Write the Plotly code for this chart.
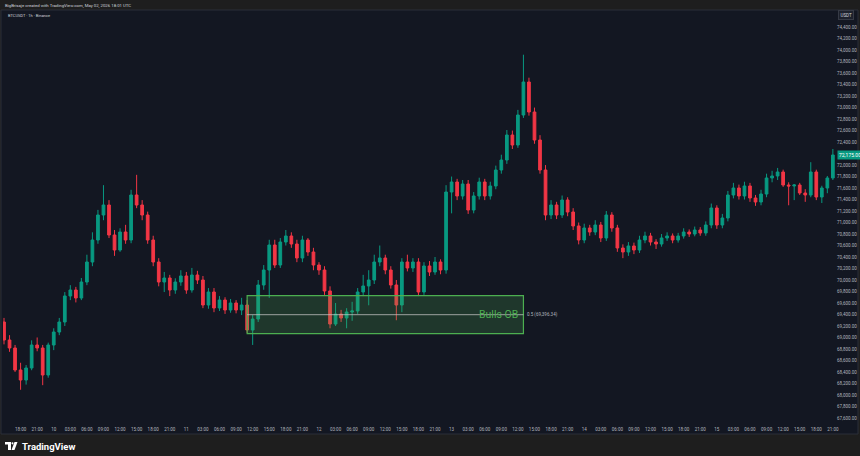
import pandas as pd
import plotly.graph_objects as go

# ---------------- data ----------------
first_open = 69269
closes = [68956, 68817, 68434, 68260, 68469, 68869, 68817, 68347, 68869, 69095,
          69269, 69722, 69826, 69687, 69965, 70313, 70696, 71131, 71305, 70783,
          70522, 70835, 70696, 71479, 71305, 71131, 70696, 70313, 69965, 70035,
          69826, 69965, 70070, 69826, 70087, 70000, 69565, 69791, 69513, 69652,
          69478, 69600, 69478, 69565, 69130, 69321, 69913, 70174, 70609, 70261,
          70661, 70766, 70626, 70383, 70696, 70487, 70261, 70174, 69809, 69234,
          69408, 69339, 69443, 69461, 69791, 69896, 70000, 70313, 70383, 70174,
          69913, 69565, 70313, 70209, 70313, 69791, 70244, 70139, 70313, 70174,
          71531, 71705, 71462, 71670, 71218, 71462, 71705, 71462, 71636, 71914,
          72088, 72523, 72349, 72871, 73445, 72923, 72436, 71914, 71131, 71305,
          71131, 71392, 71183, 70940, 70696, 70905, 70835, 70957, 70731, 71131,
          70905, 70557, 70487, 70592, 70522, 70696, 70766, 70661, 70626, 70731,
          70766, 70696, 70766, 70835, 70800, 70870, 70818, 70957, 71253, 70957,
          71079, 71479, 71601, 71462, 71636, 71427, 71357, 71496, 71775, 71810,
          71879, 71653, 71636, 71653, 71514, 71479, 71879, 71444, 71601, 71775,
          72175]
highs = [69340, 69040, 68870, 68560, 68520, 68950, 69000, 68870, 68910, 69160,
         69340, 69790, 69910, 69880, 70035, 70440, 70830, 71220, 71650, 71390,
         70870, 70900, 70960, 71570, 71830, 71390, 71190, 70770, 70380, 70140,
         70090, 70030, 70170, 70140, 70210, 70160, 70070, 69860, 69860, 69720,
         69700, 69670, 69650, 69690, 69650, 69390, 70000, 70260, 70700, 70700,
         70730, 70870, 70830, 70700, 70770, 70730, 70560, 70310, 70240, 69890,
         69600, 69480, 69510, 69620, 69860, 70090, 70170, 70440, 70600, 70440,
         70240, 70000, 70380, 70440, 70380, 70380, 70310, 70330, 70400, 70360,
         71650, 71800, 71760, 71740, 71740, 71530, 71780, 71760, 71710, 71990,
         72180, 72610, 72600, 72960, 73920, 73520, 73000, 72520, 72000, 71390,
         71360, 71470, 71440, 71250, 71000, 70980, 70960, 71040, 71010, 71200,
         71180, 70960, 70620, 70660, 70650, 70770, 70840, 70820, 70710, 70800,
         70830, 70810, 70820, 70900, 70880, 70930, 70920, 71020, 71330, 71300,
         71150, 71550, 71690, 71660, 71710, 71690, 71480, 71570, 71850, 71900,
         71950, 71920, 71700, 71670, 71690, 71580, 72050, 71920, 71640, 71810,
         72280]
lows = [68880, 68750, 68400, 68090, 68180, 68430, 68760, 68170, 68300, 68780,
        69040, 69200, 69650, 69610, 69650, 69910, 70240, 70630, 71040, 70730,
        70420, 70490, 70630, 70640, 71250, 71040, 70630, 70240, 69890, 69790,
        69720, 69760, 69900, 69760, 69780, 69930, 69510, 69500, 69440, 69460,
        69410, 69430, 69420, 69390, 69080, 68870, 69270, 69830, 69690, 70210,
        70210, 70600, 70560, 70310, 70310, 70420, 70170, 70090, 69740, 69160,
        69200, 69270, 69160, 69290, 69410, 69720, 69560, 69930, 70240, 70100,
        69850, 69300, 69440, 70150, 70140, 69720, 69740, 70070, 70090, 70100,
        70110, 71160, 71390, 71400, 71150, 71160, 71400, 71390, 71400, 71580,
        71850, 72020, 72280, 72300, 72820, 72860, 72370, 71850, 71040, 71060,
        71060, 71080, 71110, 70870, 70620, 70640, 70770, 70780, 70660, 70680,
        70840, 70490, 70380, 70420, 70450, 70470, 70640, 70600, 70540, 70580,
        70680, 70640, 70650, 70720, 70750, 70760, 70770, 70770, 70900, 70890,
        70900, 71020, 71420, 71400, 71400, 71360, 71290, 71300, 71440, 71700,
        71740, 71620, 71300, 71390, 71480, 71360, 71440, 71390, 71340, 71510,
        71740]
first_time = "2026-04-09 15:00"

ob_start = "2026-04-11 11:00"
ob_end = "2026-04-13 13:00"
ob_low = 69065.20
ob_high = 69727.48
ob_label = "Bulls OB"

header_text = "BigBrisaje created with TradingView.com, May 02, 2026 18:01 UTC"
symbol_text = "BTCUSDT · 1h · Binance"
currency_text = "USDT"
y_ticks_all = list(range(67600, 74401, 200))
x_view = ("2026-04-09 14:49", "2026-04-15 21:34")
y_view = (67477, 74698)

# ---------------- build ----------------
times = pd.date_range(first_time, periods=len(closes), freq="h")
opens = [first_open] + closes[:-1]
last_close = closes[-1]
# the current-price badge replaces the axis label it would cover
y_ticks = [v for v in y_ticks_all if abs(v - last_close) > 110]

tick_times = pd.date_range("2026-04-09 15:00", "2026-04-15 21:00", freq="3h")
tick_text = [str(t.day) if t.hour == 0 else t.strftime("%H:%M") for t in tick_times]

UP = "#089981"
DOWN = "#f23645"
BG = "#131722"
FONT = "Roboto"

W, H = 860, 456
ML, MR, MT, MB = 3, 24, 10, 31
PW, PH = W - ML - MR, H - MT - MB


def px(x):
    return (x - ML) / PW


def py(y):
    return (H - MB - y) / PH


fig = go.Figure()
fig.add_trace(go.Candlestick(
    x=times, open=opens, high=highs, low=lows, close=closes,
    increasing=dict(line=dict(color=UP, width=1), fillcolor=UP),
    decreasing=dict(line=dict(color=DOWN, width=1), fillcolor=DOWN),
    whiskerwidth=0, showlegend=False, hoverinfo="skip",
))

mid = (ob_low + ob_high) / 2
shapes = [
    # chart panel background
    dict(type="rect", xref="paper", yref="paper", x0=px(1), x1=px(858), y0=py(434), y1=py(10),
         fillcolor=BG, line=dict(color="#2a2e39", width=1), layer="below"),
    # order block
    dict(type="rect", xref="x", yref="y", x0=ob_start, x1=ob_end, y0=ob_low, y1=ob_high,
         fillcolor="rgba(76,175,80,0.22)", line=dict(color="#4caf50", width=1.2), layer="above"),
    dict(type="line", xref="x", yref="y", x0=ob_start, x1=ob_end, y0=mid, y1=mid,
         line=dict(color="rgba(200,200,200,0.75)", width=1), layer="above"),
    # TradingView logo
    dict(type="rect", xref="paper", yref="paper", x0=px(5), x1=px(11), y0=py(444.5), y1=py(442),
         fillcolor="#ffffff", line=dict(width=0)),
    dict(type="rect", xref="paper", yref="paper", x0=px(8), x1=px(11), y0=py(450), y1=py(442),
         fillcolor="#ffffff", line=dict(width=0)),
    dict(type="circle", xref="paper", yref="paper", x0=px(11.5), x1=px(13.5), y0=py(444.5), y1=py(442.2),
         fillcolor="#ffffff", line=dict(width=0)),
    dict(type="path", xref="paper", yref="paper",
         path=f"M {px(14.5)} {py(442)} L {px(17.5)} {py(442)} L {px(14.5)} {py(450)} L {px(11.5)} {py(450)} Z",
         fillcolor="#ffffff", line=dict(width=0)),
]

annotations = [
    dict(text=header_text, xref="paper", yref="paper", x=px(3), y=py(5), xanchor="left", yanchor="middle",
         showarrow=False, font=dict(family=FONT, size=4.3, color="#d1d4dc")),
    dict(text=symbol_text, xref="paper", yref="paper", x=px(6), y=py(15), xanchor="left", yanchor="middle",
         showarrow=False, font=dict(family=FONT, size=4, color="#d1d4dc")),
    dict(text=currency_text, xref="paper", yref="paper", x=px(846), y=py(15), xanchor="center", yanchor="middle",
         showarrow=False, font=dict(family=FONT, size=4.5, color="#d1d4dc"),
         bgcolor="#1e222d", bordercolor="#363a45", borderwidth=1, borderpad=1.5),
    dict(text=ob_label, xref="x", yref="y", x=ob_end, y=mid, xanchor="right", yanchor="middle",
         xshift=-3, showarrow=False, font=dict(family=FONT, size=10.5, color="#4caf50")),
    dict(text=f"0.5 ({mid:,.2f})", xref="x", yref="y", x=ob_end, y=mid, xanchor="left", yanchor="middle",
         xshift=2, showarrow=False, font=dict(family=FONT, size=4.5, color="#b2b5be")),
    dict(text=f"{last_close:,.2f}", xref="paper", yref="y", x=1, y=last_close, xanchor="left",
         yanchor="middle", xshift=1, showarrow=False, font=dict(family=FONT, size=5, color="#ffffff"),
         bgcolor=UP, borderpad=1),
    dict(text="<b>TradingView</b>", xref="paper", yref="paper", x=px(20), y=py(446), xanchor="left",
         yanchor="middle", showarrow=False, font=dict(family=FONT, size=9.5, color="#ffffff")),
]

fig.update_layout(
    width=W, height=H,
    margin=dict(l=ML, r=MR, t=MT, b=MB),
    paper_bgcolor="#1e1e1e", plot_bgcolor=BG,
    shapes=shapes, annotations=annotations,
    showlegend=False,
    font=dict(family=FONT, color="#b2b5be"),
    xaxis=dict(
        type="date", range=list(x_view), rangeslider=dict(visible=False),
        tickmode="array", tickvals=tick_times, ticktext=tick_text,
        tickfont=dict(family=FONT, size=4.5, color="#b2b5be"),
        showgrid=False, zeroline=False, showline=False, ticks="", ticklen=0,
    ),
    yaxis=dict(
        side="right", range=list(y_view),
        tickmode="array", tickvals=y_ticks, tickformat=",.2f",
        tickfont=dict(family=FONT, size=4.5, color="#b2b5be"),
        showgrid=False, zeroline=False, showline=False, ticks="", ticklen=0,
    ),
)

fig.write_html("out.html")
